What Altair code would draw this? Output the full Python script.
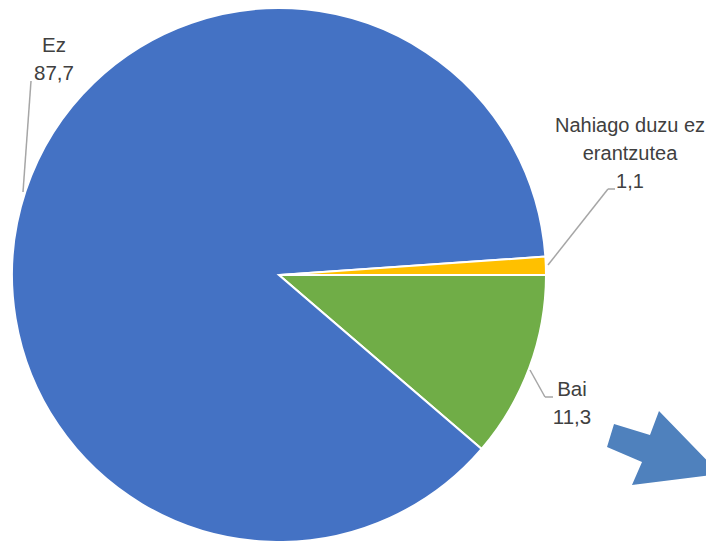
import math
import textwrap
import altair as alt
import pandas as pd

categories = ["Bai", "Ez", "Nahiago duzu ez erantzutea"]
values = [11.3, 87.7, 1.1]
colors = ["#70AD47", "#4472C4", "#FFC000"]

labels = [textwrap.fill(c, 15) + "\n" + f"{v:.1f}".replace(".", ",") for c, v in zip(categories, values)]
df = pd.DataFrame({"cat": categories, "value": values, "idx": list(range(len(categories))), "label": labels})

W, H = 698, 533
CX, CY, R = 271, 267, 267

base = alt.Chart(df)

pie = base.mark_arc(outerRadius=R, stroke="white", strokeWidth=2).encode(
    theta=alt.Theta("value:Q", stack=True, scale=alt.Scale(range=[math.pi / 2, math.pi / 2 + 2 * math.pi])),
    color=alt.Color("cat:N", scale=alt.Scale(domain=categories, range=colors), legend=None),
    order=alt.Order("idx:Q"),
    x=alt.value(CX),
    y=alt.value(CY),
)

one = pd.DataFrame({"k": [0]})
GRAY = "#A6A6A6"

def seg(x1, y1, x2, y2):
    return alt.Chart(one).mark_rule(color=GRAY, strokeWidth=1.5).encode(
        x=alt.value(x1), y=alt.value(y1), x2=alt.value(x2), y2=alt.value(y2)
    )

leaders = [
    seg(15, 184, 23, 73),
    seg(540, 257, 600, 181),
    seg(600, 181, 607, 181),
    seg(522, 362, 537, 389),
    seg(537, 389, 545, 389),
]

def lab(cat, x, y, size=20.5):
    return base.transform_filter(alt.datum.cat == cat).mark_text(
        font="Liberation Sans", fontSize=size, color="#404040", lineBreak="\n",
        lineHeight=28, align="center", baseline="middle"
    ).encode(text="label:N", x=alt.value(x), y=alt.value(y))

texts = [
    lab("Ez", 46, 38),
    lab("Nahiago duzu ez erantzutea", 622, 118, 20),
    lab("Bai", 564, 382),
]

arrow_path = "M-0.868,-0.421 L-0.237,-0.228 L-0.079,-0.649 L0.991,0.456 L-0.553,0.649 L-0.377,0.246 L-0.991,-0.018 Z"
arrow = alt.Chart(one).mark_point(
    shape=arrow_path, filled=True, color="#4F81BD", opacity=1, size=12996, strokeWidth=0
).encode(x=alt.value(655.5), y=alt.value(440))

chart = alt.layer(pie, *leaders, *texts, arrow).properties(
    width=W, height=H, padding=0, autosize=alt.AutoSizeParams(type="none")
).configure_view(stroke=None)

chart.save("out.html", embed_options={"renderer": "svg", "actions": False})
